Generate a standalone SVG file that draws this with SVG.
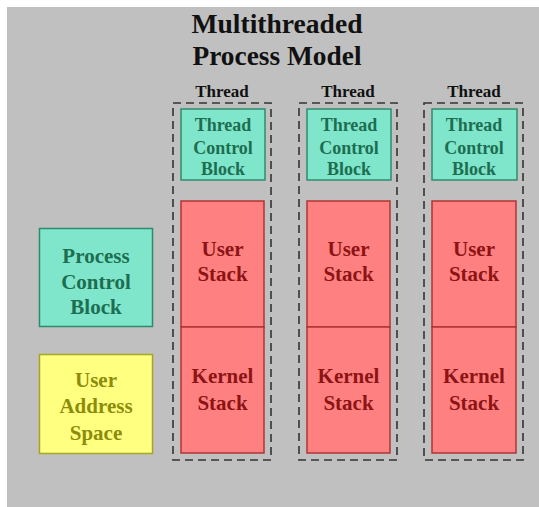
<svg xmlns="http://www.w3.org/2000/svg" width="539" height="507" viewBox="0 0 539 507">
  <style>
    text { font-family: "Liberation Serif", "Times New Roman", serif; font-weight: bold; text-anchor: middle; }
    .title { font-size: 28px; fill: #111; }
    .tlabel { font-size: 17px; fill: #111; }
    .teal { fill: #7fe6cb; stroke: #2f8a6c; stroke-width: 1.5; }
    .teal-t { fill: #1d6e51; }
    .red { fill: #ff8080; stroke: #b03434; stroke-width: 1.5; }
    .red-t { fill: #8c1414; }
    .yellow { fill: #ffff80; stroke: #a6a626; stroke-width: 1.5; }
    .yellow-t { fill: #8c8c0c; }
    .dash { fill: none; stroke: #333; stroke-width: 1.6; stroke-dasharray: 8 5; }
    .small { font-size: 18px; }
    .big { font-size: 21px; }
  </style>

  <rect x="0" y="0" width="539" height="507" fill="#ffffff"/>
  <rect x="7" y="7" width="532" height="500" fill="#c0c0c0"/>

  <g id="title">
    <text class="title" x="277" y="33" textLength="171" lengthAdjust="spacingAndGlyphs">Multithreaded</text>
    <text class="title" x="277" y="65" textLength="169" lengthAdjust="spacingAndGlyphs">Process Model</text>
  </g>

  <g id="process-control-block">
    <rect class="teal" x="39.5" y="228.5" width="113" height="98"/>
    <text class="teal-t big" x="96" y="263">Process</text>
    <text class="teal-t big" x="96" y="289">Control</text>
    <text class="teal-t big" x="96" y="314">Block</text>
  </g>

  <g id="user-address-space">
    <rect class="yellow" x="39.5" y="354.5" width="113" height="99"/>
    <text class="yellow-t big" x="96" y="387">User</text>
    <text class="yellow-t big" x="96" y="413">Address</text>
    <text class="yellow-t big" x="96" y="440">Space</text>
  </g>

  <g id="thread-1">
    <text class="tlabel" x="222" y="97">Thread</text>
    <rect class="dash" x="173" y="103" width="98" height="357"/>
    <rect class="teal" x="181" y="109" width="84" height="71"/>
    <text class="teal-t small" x="223" y="131">Thread</text>
    <text class="teal-t small" x="223" y="154">Control</text>
    <text class="teal-t small" x="223" y="175">Block</text>
    <rect class="red" x="181" y="201" width="83" height="126"/>
    <rect class="red" x="181" y="327" width="83" height="126"/>
    <text class="red-t big" x="222.5" y="256">User</text>
    <text class="red-t big" x="222.5" y="281">Stack</text>
    <text class="red-t big" x="222.5" y="383">Kernel</text>
    <text class="red-t big" x="222.5" y="410">Stack</text>
  </g>

  <g id="thread-2">
    <text class="tlabel" x="348" y="97">Thread</text>
    <rect class="dash" x="299" y="103" width="98" height="357"/>
    <rect class="teal" x="307" y="109" width="84" height="71"/>
    <text class="teal-t small" x="349" y="131">Thread</text>
    <text class="teal-t small" x="349" y="154">Control</text>
    <text class="teal-t small" x="349" y="175">Block</text>
    <rect class="red" x="307" y="201" width="83" height="126"/>
    <rect class="red" x="307" y="327" width="83" height="126"/>
    <text class="red-t big" x="348.5" y="256">User</text>
    <text class="red-t big" x="348.5" y="281">Stack</text>
    <text class="red-t big" x="348.5" y="383">Kernel</text>
    <text class="red-t big" x="348.5" y="410">Stack</text>
  </g>

  <g id="thread-3">
    <text class="tlabel" x="474" y="97">Thread</text>
    <rect class="dash" x="424" y="103" width="99" height="357"/>
    <rect class="teal" x="432" y="109" width="85" height="71"/>
    <text class="teal-t small" x="474" y="131">Thread</text>
    <text class="teal-t small" x="474" y="154">Control</text>
    <text class="teal-t small" x="474" y="175">Block</text>
    <rect class="red" x="432" y="201" width="84" height="126"/>
    <rect class="red" x="432" y="327" width="84" height="126"/>
    <text class="red-t big" x="474" y="256">User</text>
    <text class="red-t big" x="474" y="281">Stack</text>
    <text class="red-t big" x="474" y="383">Kernel</text>
    <text class="red-t big" x="474" y="410">Stack</text>
  </g>
</svg>
